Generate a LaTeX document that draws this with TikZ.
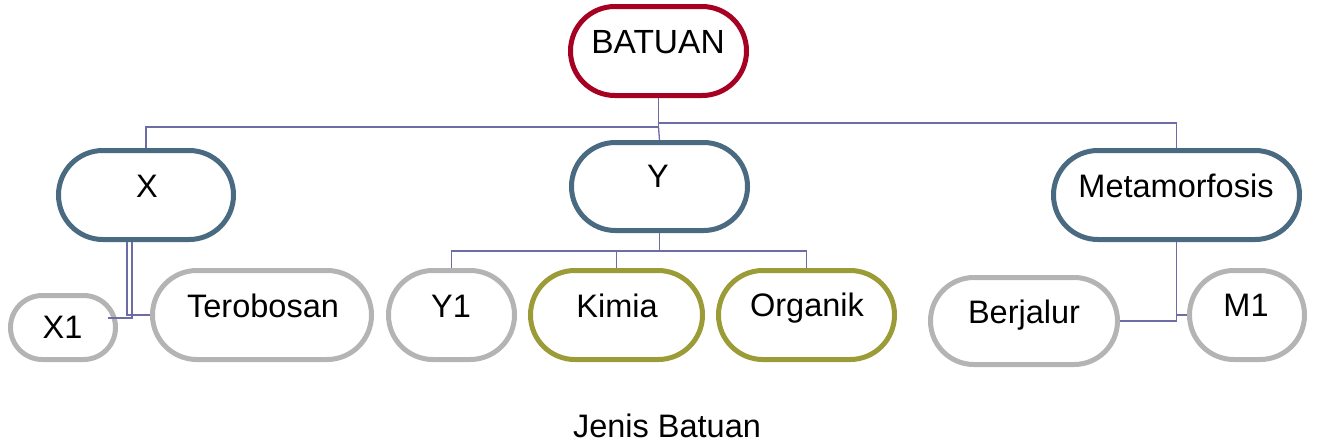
\documentclass[tikz,border=0pt]{standalone}
\usepackage{fontspec}
\setmainfont{Liberation Sans}
\definecolor{cred}{RGB}{166,0,34}
\definecolor{cslate}{RGB}{74,106,130}
\definecolor{cgray}{RGB}{180,180,180}
\definecolor{colive}{RGB}{155,155,55}
\definecolor{cconn}{RGB}{110,108,165}
\begin{document}
\begin{tikzpicture}[x=1pt,y=-1pt,
  pill/.style={draw,line width=5pt,rectangle,inner sep=0pt},
  txt/.style={anchor=base,inner sep=0pt,font=\fontsize{32.5}{38}\selectfont},
  conn/.style={draw=cconn,line width=1.3pt}]
\useasboundingbox (0,0) rectangle (1317,445);
% boxes
\node[pill,draw=cred,minimum width=176pt,minimum height=89pt,rounded corners=44.4pt] (batuan) at (658.5,51) {};
\node[pill,draw=cslate,minimum width=175pt,minimum height=89pt,rounded corners=44.4pt] (x) at (146,195) {};
\node[pill,draw=cslate,minimum width=176pt,minimum height=88pt,rounded corners=43.9pt] (y) at (659.5,186.5) {};
\node[pill,draw=cslate,minimum width=246pt,minimum height=89pt,rounded corners=44.4pt] (meta) at (1176.5,195) {};
\node[pill,draw=cgray,minimum width=105pt,minimum height=64pt,rounded corners=31.9pt] (x1) at (63,327.5) {};
\node[pill,draw=cgray,minimum width=219pt,minimum height=89pt,rounded corners=44.4pt] (tero) at (262,315) {};
\node[pill,draw=cgray,minimum width=126pt,minimum height=89pt,rounded corners=44.4pt] (y1) at (451.5,315) {};
\node[pill,draw=colive,minimum width=172pt,minimum height=89pt,rounded corners=44.4pt] (kimia) at (616.5,315) {};
\node[pill,draw=colive,minimum width=176pt,minimum height=89pt,rounded corners=44.4pt] (organik) at (806.5,315) {};
\node[pill,draw=cgray,minimum width=187pt,minimum height=87pt,rounded corners=43.4pt] (berjalur) at (1024,321) {};
\node[pill,draw=cgray,minimum width=115pt,minimum height=89pt,rounded corners=44.4pt] (m1) at (1247,315) {};
% texts
\node[txt,font=\fontsize{33.5}{40}\selectfont] (tbatuan) at (658,53) {BATUAN};
\node[txt] (tx) at (147,197) {X};
\node[txt] (ty) at (658,187) {Y};
\node[txt] (tmeta) at (1176,197) {Metamorfosis};
\node[txt] (tx1) at (62.5,338) {X1};
\node[txt] (ttero) at (263,317) {Terobosan};
\node[txt] (ty1) at (451,317) {Y1};
\node[txt] (tkimia) at (617,317) {Kimia};
\node[txt] (torganik) at (807,316) {Organik};
\node[txt] (tberjalur) at (1024,323) {Berjalur};
\node[txt] (tm1) at (1246,316) {M1};
\node[txt] (caption) at (667,437) {Jenis Batuan};
% connectors
\draw[conn] (batuan.south) -- (batuan.south |- 0,127) -| (x.north);
\draw[conn] (batuan.south |- 0,127) -- (y.north);
\draw[conn] (batuan.south |- 0,123) -| (meta.north);
\draw[conn] (y.south) -- (y.south |- 0,251);
\draw[conn] (y1.north) -- (y1.north |- 0,251) -- (organik.north |- 0,251) -- (organik.north);
\draw[conn] (kimia.north |- 0,251) -- (kimia.north);
\coordinate (x1end) at ([xshift=-10pt]x1.east);
\draw[conn] (x.south -| 132,0) -- (132,318) -- (x1end |- 0,318);
\draw[conn] (x.south -| 127,0) -- (127,315) -- (tero.west);
\draw[conn] (meta.south) |- (berjalur.east);
\draw[conn] (meta.south |- m1.west) -- (m1.west);
\end{tikzpicture}
\end{document}
